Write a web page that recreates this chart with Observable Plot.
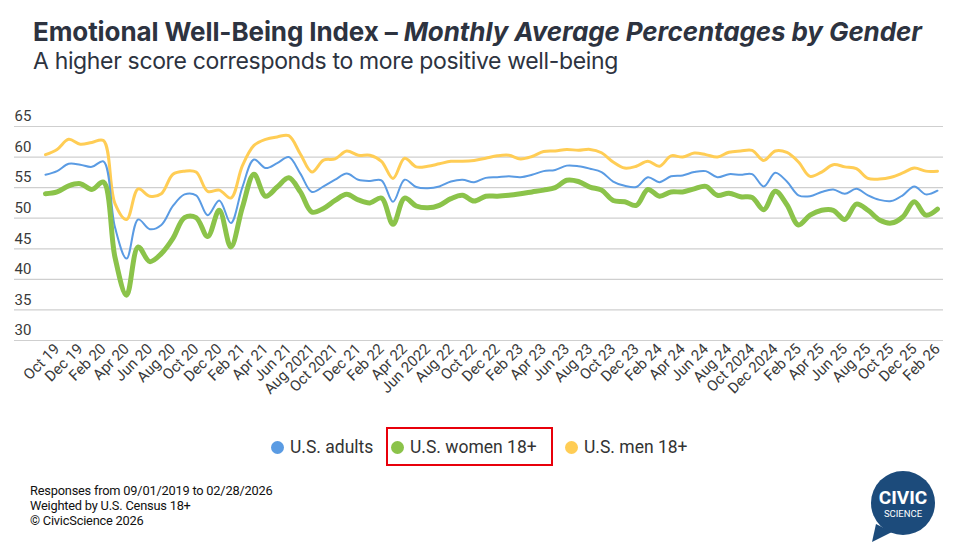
<!DOCTYPE html>
<html>
<head>
<meta charset="utf-8">
<script src="https://cdn.jsdelivr.net/npm/d3@7"></script>
<script src="https://cdn.jsdelivr.net/npm/@observablehq/plot@0.6"></script>
<style>
  html, body { margin: 0; padding: 0; background: #fff; }
  body { width: 966px; height: 559px; position: relative; overflow: hidden; font-family: Roboto, "Noto Sans", sans-serif; color: #2d3340; }
  #title { position: absolute; left: 33px; top: 19px; font-family: Inter, Roboto, sans-serif; font-size: 26px; line-height: 1; font-weight: 700; white-space: nowrap; letter-spacing: -0.1px; }
  #title i { font-style: italic; }
  #subtitle { position: absolute; left: 33px; top: 50px; font-family: Inter, Roboto, sans-serif; font-size: 23px; line-height: 1; font-weight: 400; white-space: nowrap; letter-spacing: -0.35px; }
  #chart { position: absolute; left: 0; top: 100px; }
  .leg { position: absolute; top: 437px; font-size: 17.5px; color: #333; white-space: nowrap; line-height: 20px; }
  .dot { display: inline-block; width: 13px; height: 13px; border-radius: 50%; vertical-align: -1px; margin-right: 6px; }
  #box { position: absolute; left: 386px; top: 427px; width: 163px; height: 35px; border: 2.5px solid #e8000b; }
  #foot { position: absolute; left: 30px; top: 483px; font-size: 12.8px; line-height: 15px; color: #111; letter-spacing: -0.2px; }
  #logo { position: absolute; left: 862px; top: 466px; }
</style>
</head>
<body>
<div id="title">Emotional Well-Being Index – <i>Monthly Average Percentages by Gender</i></div>
<div id="subtitle">A higher score corresponds to more positive well-being</div>
<div id="chart"></div>
<div id="box"></div>
<div id="legend"></div>
<div id="foot">Responses from 09/01/2019 to 02/28/2026<br>Weighted by U.S. Census 18+<br>© CivicScience 2026</div>
<svg id="logo" width="80" height="82" viewBox="0 0 80 82">
  <path d="M14 58 L10 76 L30 66 Z" fill="#1c4b7b"/>
  <circle cx="41" cy="37" r="32" fill="#1c4b7b"/>
  <text x="41" y="38" text-anchor="middle" fill="#fff" font-family="Roboto" font-weight="700" font-size="19">CIVIC</text>
  <text x="41" y="51" text-anchor="middle" fill="#fff" font-family="Roboto" font-size="9.5">SCIENCE</text>
</svg>
<script>
const months = ["2019-09","2019-10","2019-11","2019-12","2020-01","2020-02","2020-03","2020-04","2020-05","2020-06","2020-07","2020-08","2020-09","2020-10","2020-11","2020-12",
"2021-01","2021-02","2021-03","2021-04","2021-05","2021-06","2021-07","2021-08","2021-09","2021-10","2021-11","2021-12",
"2022-01","2022-02","2022-03","2022-04","2022-05","2022-06","2022-07","2022-08","2022-09","2022-10","2022-11","2022-12",
"2023-01","2023-02","2023-03","2023-04","2023-05","2023-06","2023-07","2023-08","2023-09","2023-10","2023-11","2023-12",
"2024-01","2024-02","2024-03","2024-04","2024-05","2024-06","2024-07","2024-08","2024-09","2024-10","2024-11","2024-12",
"2025-01","2025-02","2025-03","2025-04","2025-05","2025-06","2025-07","2025-08","2025-09","2025-10","2025-11","2025-12",
"2026-01","2026-02"];

const tickLabels = ["Oct 19","Dec 19","Feb 20","Apr 20","Jun 20","Aug 20","Oct 20","Dec 20","Feb 21","Apr 21","Jun 21","Aug 2021","Oct 2021","Dec 21","Feb 22","Apr 22","Jun 2022","Aug 22","Oct 22","Dec 22","Feb 23","Apr 23","Jun 23","Aug 23","Oct 23","Dec 23","Feb 24","Apr 24","Jun 24","Aug 24","Oct 2024","Dec 2024","Feb 25","Apr 25","Jun 25","Aug 25","Oct 25","Dec 25","Feb 26"];

const adults = [57.1,57.7,58.9,58.75,58.4,59.3,48.5,43.4,49.8,48.2,48.9,52.0,53.9,53.75,50.5,52.9,
49.2,55.1,59.6,58.2,59.0,60.0,57.3,54.3,55.2,56.3,57.3,56.3,
56.1,56.2,52.7,56.3,55.1,54.9,55.2,56.0,56.3,55.9,56.6,56.7,
56.85,56.7,57.1,57.7,57.9,58.6,58.5,58.1,57.55,56.0,55.3,55.1,
56.7,55.9,56.85,57.0,57.55,57.7,56.7,57.2,57.1,57.2,55.2,57.45,
56.0,53.75,53.6,54.3,54.7,54.0,54.8,53.75,53.0,52.8,53.75,55.2,
53.9,54.5];

const women = [54.0,54.3,55.3,55.65,54.7,55.9,43.6,37.4,45.3,42.9,44.2,46.7,50.1,50.1,47.0,51.3,
45.3,51.8,57.2,53.6,55.1,56.6,54.3,51.0,51.6,52.9,53.9,53.0,
52.5,53.3,49.0,53.3,52.0,51.7,52.1,53.2,53.75,52.8,53.6,53.6,
53.75,54.0,54.3,54.6,55.0,56.2,56.0,55.1,54.6,52.9,52.7,52.1,
54.7,53.6,54.3,54.3,54.8,55.2,53.75,54.1,53.5,53.4,51.4,54.4,
52.2,48.9,50.5,51.3,51.3,49.8,52.3,51.3,49.7,49.2,50.2,52.7,
50.5,51.5];

const men = [60.4,61.25,62.9,62.1,62.4,62.7,52.4,49.8,54.8,53.6,54.0,57.2,57.7,57.55,54.4,54.6,
53.3,58.6,61.9,62.9,63.3,63.5,60.5,57.55,59.5,59.7,61.0,60.3,
60.3,59.3,56.5,59.8,58.4,58.5,58.9,59.3,59.3,59.45,59.8,60.2,
60.3,59.7,60.1,60.9,61.0,61.25,61.1,61.25,60.7,59.2,58.2,58.5,
59.3,58.5,60.2,60.0,60.65,60.4,60.0,60.8,61.0,61.1,59.45,61.0,
60.75,59.2,56.85,57.55,58.75,58.4,58.1,56.5,56.4,56.7,57.4,58.2,
57.7,57.7];

const seriesNames = ["U.S. adults", "U.S. women 18+", "U.S. men 18+"];
const seriesColors = ["#5a9be3", "#8bc34a", "#ffcd55"];
const yTicks = [30, 35, 40, 45, 50, 55, 60, 65];

const rows = months.map((m, i) => ({i, m, adults: adults[i], women: women[i], men: men[i]}));
const tickIdx = months.map((m, i) => i).filter(i => i % 2 === 1);
const labelOf = new Map(tickIdx.map((v, k) => [v, tickLabels[k]]));

const chart = Plot.plot({
  width: 966,
  height: 310,
  marginTop: 26,
  marginBottom: 70,
  marginLeft: 14,
  marginRight: 23,
  style: {fontFamily: "Roboto, sans-serif", fontSize: "15px", color: "#3a3a3a", background: "transparent"},
  x: {type: "linear", domain: [-2.676, 77.52]},
  y: {domain: [30, 65]},
  marks: [
    Plot.gridY(yTicks, {stroke: "#cfcfcf", strokeOpacity: 1, strokeWidth: 1.2}),
    Plot.axisY(yTicks, {tickSize: 0, tickPadding: 0, textAnchor: "start", dx: 0, dy: -10, label: null, fontSize: 15}),
    Plot.axisX(tickIdx, {tickSize: 0, tickPadding: 6, tickRotate: -45, tickFormat: d => labelOf.get(d), label: null, fontSize: 15}),
    Plot.line(rows, {x: "i", y: "men", stroke: seriesColors[2], strokeWidth: 3, curve: "catmull-rom"}),
    Plot.line(rows, {x: "i", y: "adults", stroke: seriesColors[0], strokeWidth: 2, curve: "catmull-rom"}),
    Plot.line(rows, {x: "i", y: "women", stroke: seriesColors[1], strokeWidth: 5, curve: "catmull-rom"})
  ]
});
document.getElementById("chart").appendChild(chart);

const legPos = [271, 391, 565];
const leg = document.getElementById("legend");
seriesNames.forEach((n, k) => {
  const d = document.createElement("div");
  d.className = "leg";
  d.style.left = legPos[k] + "px";
  d.innerHTML = `<span class="dot" style="background:${seriesColors[k]}"></span>${n}`;
  leg.appendChild(d);
});
</script>
</body>
</html>
